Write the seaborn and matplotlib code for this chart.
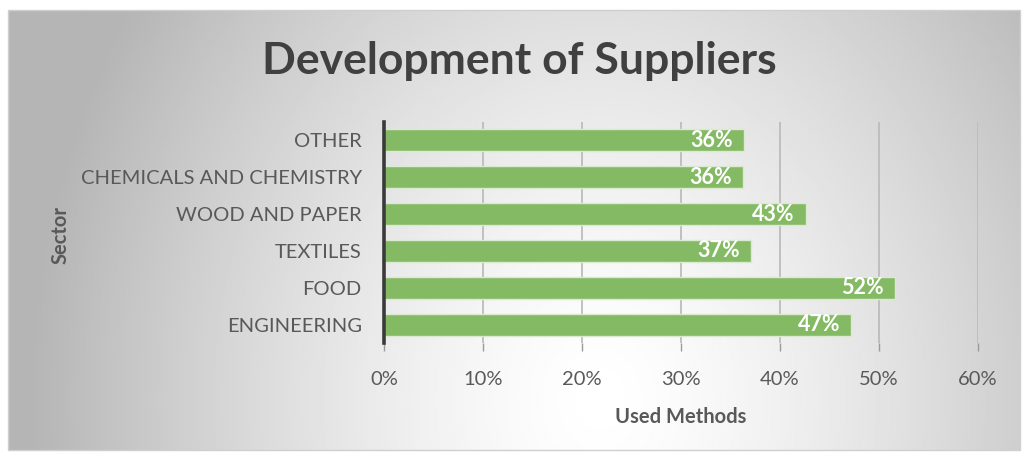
import numpy as np
import pandas as pd
import matplotlib
matplotlib.use("Agg")
import matplotlib.pyplot as plt
from matplotlib.patches import Rectangle
from matplotlib.ticker import PercentFormatter
import seaborn as sns

# Share of companies using supplier-development methods, by sector
sectors = ["OTHER", "CHEMICALS AND CHEMISTRY", "WOOD AND PAPER",
           "TEXTILES", "FOOD", "ENGINEERING"]
used_methods = [0.364, 0.363, 0.426, 0.371, 0.516, 0.472]
x_ticks = [0.0, 0.1, 0.2, 0.3, 0.4, 0.5, 0.6]

title = "Development of Suppliers"
x_title = "Used Methods"
y_title = "Sector"

df = pd.DataFrame({"Sector": sectors, "Used": used_methods})

sns.set_theme(style="white")
plt.rcParams["font.family"] = ["Lato", "DejaVu Sans"]

W, H, DPI = 1024, 454, 100
fig = plt.figure(figsize=(W / DPI, H / DPI), dpi=DPI)
fig.patch.set_facecolor("white")

# Radial grey-to-white backdrop inside a thin frame
bg = fig.add_axes([0, 0, 1, 1], zorder=-5)
bg.set_xlim(0, W)
bg.set_ylim(H, 0)
bg.axis("off")
x0, y0, x1, y1 = 8, 10, 1020, 450
gx, gy = np.meshgrid(np.linspace(x0, x1, 500), np.linspace(y0, y1, 220))
d = np.sqrt(((gx - 600) / 570) ** 2 + ((gy - 400) / 700) ** 2)
shade = 1.0 - 0.29 * np.clip(d, 0, 1) ** 1.4
bg.imshow(shade, cmap="gray", vmin=0, vmax=1, extent=(x0, x1, y1, y0),
          aspect="auto", interpolation="bilinear")
bg.add_patch(Rectangle((x0, y0), x1 - x0, y1 - y0, fill=False,
                       edgecolor="#cfcfcf", linewidth=1.0))

ax = fig.add_axes([384 / W, 1 - 343 / H, (978 - 384) / W, (343 - 122) / H])
ax.set_facecolor("none")

sns.barplot(data=df, y="Sector", x="Used", orient="h", ax=ax,
            color="#84BA64", saturation=1, width=0.6,
            edgecolor="#d9ead0", linewidth=1.0, zorder=3)

ax.set_xlim(0, 0.6)
ax.set_xticks(x_ticks)
ax.xaxis.set_major_formatter(PercentFormatter(1.0, decimals=0))
ax.grid(axis="x", color="#bcbcbc", linewidth=1.3, zorder=0)
ax.set_axisbelow(True)

for s in ["top", "right", "bottom"]:
    ax.spines[s].set_visible(False)
ax.spines["left"].set_color("#3a3a3a")
ax.spines["left"].set_linewidth(2.6)
ax.spines["left"].set_zorder(5)

ax.tick_params(axis="x", length=6, width=1.0, color="#9a9a9a",
               labelsize=14.5, labelcolor="#595959", pad=14, bottom=True)
ax.tick_params(axis="y", length=0, labelsize=14.5, labelcolor="#595959", pad=16)

ax.set_xlabel(x_title, fontsize=14.5, fontweight="bold", color="#595959", labelpad=14)
ax.set_ylabel(y_title, fontsize=14.5, fontweight="bold", color="#595959", labelpad=0)
ax.yaxis.set_label_coords(-0.528, 0.49)

for i, v in enumerate(used_methods):
    ax.annotate(f"{v:.0%}", xy=(v, i), xytext=(-8, 0), textcoords="offset points",
                ha="right", va="center", color="white", fontsize=15.5,
                fontweight="bold", zorder=6)

fig.text(519 / W, 1 - 61 / H, title, ha="center", va="center",
         fontsize=32, fontweight="bold", color="#404040")

fig.savefig("out.png", dpi=DPI)
